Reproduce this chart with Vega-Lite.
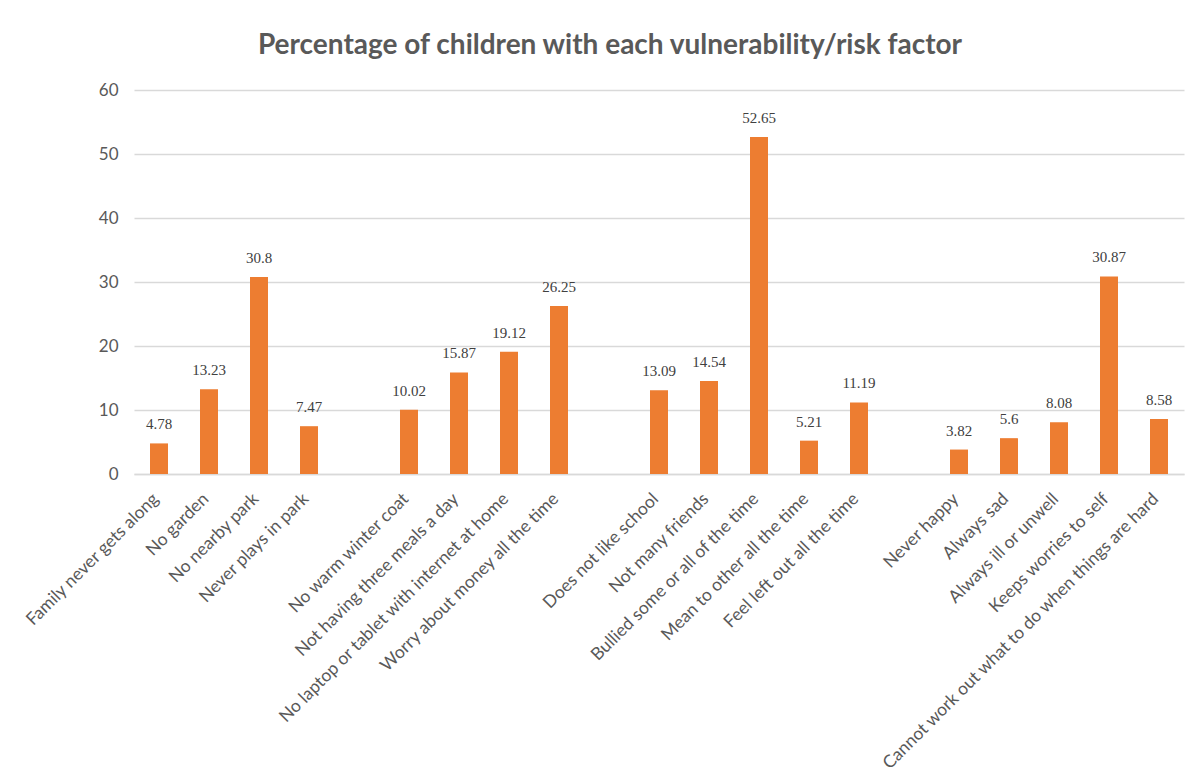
{
  "$schema": "https://vega.github.io/schema/vega-lite/v6.json",
  "autosize": {"type": "none"},
  "width": 1050,
  "height": 384,
  "padding": {"left": 134, "top": 90, "right": 14, "bottom": 308},
  "background": "white",
  "title": {
    "text": "Percentage of children with each vulnerability/risk factor",
    "font": "Lato",
    "fontSize": 28,
    "fontWeight": "bold",
    "color": "#595959",
    "anchor": "middle",
    "dx": -49,
    "offset": 21
  },
  "data": {
    "values": [
      {"factor": "Family never gets along", "pct": 4.78},
      {"factor": "No garden", "pct": 13.23},
      {"factor": "No nearby park", "pct": 30.8},
      {"factor": "Never plays in park", "pct": 7.47},
      {"factor": "No warm winter coat", "pct": 10.02},
      {"factor": "Not having three meals a day", "pct": 15.87},
      {"factor": "No laptop or tablet with internet at home", "pct": 19.12},
      {"factor": "Worry about money all the time", "pct": 26.25},
      {"factor": "Does not like school", "pct": 13.09},
      {"factor": "Not many friends", "pct": 14.54},
      {"factor": "Bullied some or all of the time", "pct": 52.65},
      {"factor": "Mean to other all the time", "pct": 5.21},
      {"factor": "Feel left out all the time", "pct": 11.19},
      {"factor": "Never happy", "pct": 3.82},
      {"factor": "Always sad", "pct": 5.6},
      {"factor": "Always ill or unwell", "pct": 8.08},
      {"factor": "Keeps worries to self", "pct": 30.87},
      {"factor": "Cannot work out what to do when things are hard", "pct": 8.58}
    ]
  },
  "encoding": {
    "x": {
      "field": "factor",
      "type": "nominal",
      "scale": {
        "domain": [
          "Family never gets along", "No garden", "No nearby park", "Never plays in park", "_gap1",
          "No warm winter coat", "Not having three meals a day", "No laptop or tablet with internet at home", "Worry about money all the time", "_gap2",
          "Does not like school", "Not many friends", "Bullied some or all of the time", "Mean to other all the time", "Feel left out all the time", "_gap3",
          "Never happy", "Always sad", "Always ill or unwell", "Keeps worries to self", "Cannot work out what to do when things are hard"
        ],
        "paddingInner": 0.64,
        "paddingOuter": 0.32
      },
      "axis": {
        "title": null,
        "labelExpr": "substring(datum.label, 0, 4) === '_gap' ? '' : datum.label",
        "labelAngle": -45,
        "labelAlign": "right",
        "labelBaseline": "middle",
        "labelPadding": 22,
        "labelOffset": -3,
        "labelFont": "Lato",
        "labelFontSize": 17.5,
        "labelColor": "#595959",
        "labelLimit": 600,
        "ticks": false,
        "domainColor": "#d9d9d9",
        "domainWidth": 1.5,
        "grid": false
      }
    },
    "y": {
      "field": "pct",
      "type": "quantitative",
      "scale": {"domain": [0, 60]},
      "axis": {
        "title": null,
        "values": [0, 10, 20, 30, 40, 50, 60],
        "labelFont": "Lato",
        "labelFontSize": 17,
        "labelColor": "#595959",
        "labelPadding": 16,
        "ticks": false,
        "domain": false,
        "gridColor": "#d9d9d9",
        "gridWidth": 1.5
      }
    }
  },
  "layer": [
    {"mark": {"type": "bar", "color": "#ED7D31"}},
    {
      "mark": {"type": "text", "baseline": "alphabetic", "dy": -14, "font": "Liberation Serif", "fontSize": 15, "color": "#404040"},
      "encoding": {"text": {"field": "pct", "type": "nominal"}}
    }
  ],
  "config": {"view": {"stroke": null}}
}
